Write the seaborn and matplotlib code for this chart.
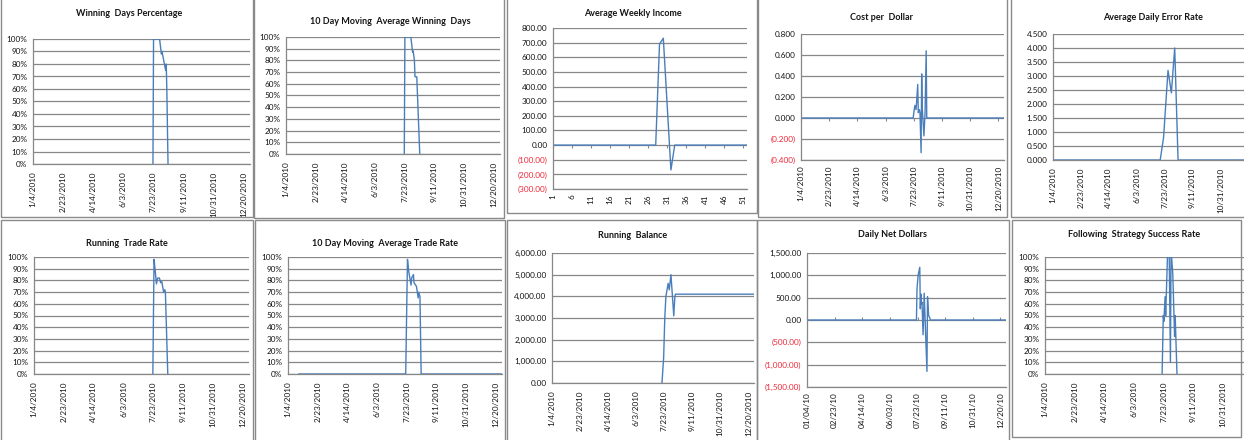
import matplotlib
matplotlib.use("Agg")
import matplotlib.pyplot as plt
import matplotlib.dates as mdates
from matplotlib.patches import Rectangle
import seaborn as sns
import pandas as pd

sns.set_style("white")
plt.rcParams['font.family'] = ['Lato', 'DejaVu Sans']

# ---------------- data ----------------
date_ticks = ["2010-01-04", "2010-02-23", "2010-04-14", "2010-06-03",
              "2010-07-23", "2010-09-11", "2010-10-31", "2010-12-20"]
date_labels = ["1/4/2010", "2/23/2010", "4/14/2010", "6/3/2010",
               "7/23/2010", "9/11/2010", "10/31/2010", "12/20/2010"]
date_labels_short = ["01/04/10", "02/23/10", "04/14/10", "06/03/10",
                     "07/23/10", "09/11/10", "10/31/10", "12/20/10"]
x_start, x_end = "2010-01-04", "2010-12-30"

win_dates = ["2010-07-22", "2010-07-23", "2010-08-02", "2010-08-05", "2010-08-06",
             "2010-08-08", "2010-08-12", "2010-08-13", "2010-08-14", "2010-08-16"]
win_pct = [0, 100, 100, 88, 90, 85, 75, 80, 60, 0]

ma_win_dates = ["2010-07-22", "2010-07-23", "2010-08-02", "2010-08-05", "2010-08-06",
                "2010-08-08", "2010-08-09", "2010-08-12", "2010-08-17"]
ma_win_pct = [0, 100, 100, 87, 88, 80, 66, 66, 0]

weeks = list(range(1, 53))
weekly_income = [0, 0, 0, 0, 0, 0, 0, 0, 0, 0,
                 0, 0, 0, 0, 0, 0, 0, 0, 0, 0,
                 0, 0, 0, 0, 0, 0, 0, 0, 690, 730,
                 280, -170, 0, 0, 0, 0, 0, 0, 0, 0,
                 0, 0, 0, 0, 0, 0, 0, 0, 0, 0,
                 0, 0]
week_ticks = [1, 6, 11, 16, 21, 26, 31, 36, 41, 46, 51]

cost_dates = ["2010-01-04", "2010-07-22", "2010-07-23", "2010-07-25", "2010-07-27",
              "2010-07-28", "2010-07-30", "2010-07-31", "2010-08-02", "2010-08-03",
              "2010-08-05", "2010-08-06", "2010-08-07", "2010-08-10", "2010-08-12",
              "2010-08-14", "2010-08-15", "2010-12-30"]
cost_per_dollar = [0, 0, 0.05, 0.12, 0.08, 0.15, 0.32, 0.05, 0.08, 0.05,
                   -0.33, 0.42, 0.10, -0.17, 0.05, 0.64, 0, 0]

error_dates = ["2010-01-04", "2010-07-15", "2010-07-21", "2010-07-29", "2010-08-04",
               "2010-08-10", "2010-08-16", "2010-12-30"]
error_rate = [0, 0, 0.8, 3.2, 2.4, 4.0, 0, 0]

trade_dates = ["2010-07-22", "2010-07-24", "2010-07-26", "2010-07-28", "2010-07-30",
               "2010-08-02", "2010-08-04", "2010-08-06", "2010-08-09", "2010-08-11",
               "2010-08-12", "2010-08-16"]
trade_rate = [0, 98, 88, 77, 82, 82, 78, 79, 70, 72, 70, 0]

ma_trade_dates = ["2010-01-22", "2010-07-21", "2010-07-24", "2010-07-26", "2010-07-30",
                  "2010-07-31", "2010-08-03", "2010-08-04", "2010-08-08", "2010-08-11",
                  "2010-08-12", "2010-08-14", "2010-08-16", "2010-12-30"]
ma_trade_rate = [0, 0, 98, 88, 76, 82, 85, 78, 75, 65, 70, 66, 0, 0]

balance_dates = ["2010-07-19", "2010-07-22", "2010-07-24", "2010-07-26", "2010-07-30",
                 "2010-08-01", "2010-08-04", "2010-08-09", "2010-08-11", "2010-08-12",
                 "2010-12-30"]
balance = [0, 1200, 3000, 4000, 4600, 4300, 5000, 3100, 4000, 4100, 4100]

net_dates = ["2010-01-04", "2010-07-21", "2010-07-22", "2010-07-24", "2010-07-27",
             "2010-07-28", "2010-07-29", "2010-07-30", "2010-07-31", "2010-08-02",
             "2010-08-04", "2010-08-09", "2010-08-10", "2010-08-12", "2010-08-14",
             "2010-08-15", "2010-12-30"]
net_dollars = [0, 0, 700, 1000, 1180, 250, 580, 350, 400, -330, 600, -1150, 520,
               100, 50, 0, 0]

follow_dates = ["2010-07-20", "2010-07-22", "2010-07-23", "2010-07-25", "2010-07-26",
                "2010-07-29", "2010-08-01", "2010-08-03", "2010-08-04", "2010-08-05",
                "2010-08-07", "2010-08-10", "2010-08-11", "2010-08-14"]
follow_rate = [0, 50, 45, 66, 50, 100, 100, 10, 100, 100, 85, 32, 50, 0]

# ---------------- styling ----------------
W, H = 1244, 440
LINE = "#4A7EBB"
GRID = "#878787"
NEG = "#F02838"
TXT = "#141414"
FS = 5.9
TFS = 6.5

fig = plt.figure(figsize=(W / 100, H / 100), dpi=100)
fig.patch.set_facecolor("white")


def box(l, t, r, b):
    fig.patches.append(Rectangle((l / W, 1 - b / H), (r - l) / W, (b - t) / H,
                                 transform=fig.transFigure, fill=False,
                                 ec="#8A8A8A", lw=1.0))


def pct_labels(v):
    return f"{v:.0f}%"


def money(v, dec=2):
    s = f"{abs(v):,.{dec}f}"
    return f"({s})" if v < 0 else s


def panel(rect, title, txy, ylim, yticks, ylabels, zero_axis=False):
    l, t, r, b = rect
    ax = fig.add_axes([l / W, 1 - b / H, (r - l) / W, (b - t) / H])
    ax.set_facecolor("none")
    ax.grid(axis="y", color=GRID, lw=0.9)
    ax.grid(axis="x", visible=False)
    ax.set_axisbelow(True)
    for s in ("top", "right"):
        ax.spines[s].set_visible(False)
    for s in ("left", "bottom"):
        ax.spines[s].set_color(GRID)
        ax.spines[s].set_linewidth(0.9)
    ax.tick_params(axis="y", length=0, pad=4, labelsize=FS)
    ax.tick_params(axis="x", length=0 if zero_axis else 2.5, color=GRID,
                   direction="out", pad=4 if zero_axis else 3, labelsize=FS,
                   labelcolor=TXT)
    fig.text(txy[0] / W, 1 - txy[1] / H, title, ha="center", va="center",
             fontsize=TFS, fontweight="bold", color=TXT)
    ax._ylim_spec = (ylim, yticks, ylabels)
    return ax


def set_y(ax):
    ylim, yticks, ylabels = ax._ylim_spec
    ax.set_ylim(*ylim)
    ax.set_yticks(yticks)
    ax.set_yticklabels(ylabels)
    for lbl, v in zip(ax.get_yticklabels(), yticks):
        lbl.set_color(NEG if v < 0 else TXT)
    ax.set_xlabel("")
    ax.set_ylabel("")


def add_zero_ticks(ax, ticks, frac):
    sec = ax.secondary_xaxis(frac)
    sec.set_xticks(ticks)
    sec.tick_params(axis="x", length=2.5, color=GRID, direction="out",
                    labelbottom=False, labeltop=False)
    for sp in sec.spines.values():
        sp.set_visible(False)


def finish_dates(ax, labels, zero_frac=None, n_ticks=None):
    set_y(ax)
    ax.set_xlim(pd.Timestamp(x_start), pd.Timestamp(x_end))
    n = n_ticks if n_ticks else len(date_ticks)
    tk = [mdates.date2num(pd.Timestamp(d)) for d in date_ticks[:n]]
    ax.set_xticks(tk)
    ax.set_xticklabels(labels[:n], rotation=90, va="top", ha="center")
    if zero_frac is not None:
        add_zero_ticks(ax, tk, zero_frac)


def draw(ax, dates, vals):
    sns.lineplot(x=pd.to_datetime(dates), y=vals, ax=ax, color=LINE,
                 linewidth=1.0, estimator=None)


pct_ticks = list(range(0, 101, 10))

# 1. Winning Days Percentage
ax = panel((33, 39, 250, 164), "Winning  Days Percentage", (129, 14), (0, 100),
           pct_ticks, [pct_labels(v) for v in pct_ticks])
draw(ax, win_dates, win_pct)
finish_dates(ax, date_labels)

# 2. 10 Day Moving Average Winning Days
ax = panel((286, 37, 500, 154), "10 Day Moving  Average Winning  Days", (390, 22),
           (0, 100), pct_ticks, [pct_labels(v) for v in pct_ticks])
draw(ax, ma_win_dates, ma_win_pct)
finish_dates(ax, date_labels)

# 3. Average Weekly Income
inc_ticks = list(range(-300, 801, 100))
ax = panel((553, 28, 747, 189), "Average Weekly Income", (633, 13), (-300, 800),
           inc_ticks, [money(v) for v in inc_ticks], zero_axis=True)
sns.lineplot(x=weeks, y=weekly_income, ax=ax, color=LINE, linewidth=1.0,
             estimator=None)
set_y(ax)
ax.set_xlim(1, 52)
ax.set_xticks(week_ticks)
ax.set_xticklabels([str(w) for w in week_ticks], rotation=90, va="top", ha="center")
add_zero_ticks(ax, week_ticks, 300 / 1100)

# 4. Cost per Dollar
cpd_ticks = [-0.4, -0.2, 0.0, 0.2, 0.4, 0.6, 0.8]
ax = panel((801, 34, 1004, 160), "Cost per  Dollar", (882, 18), (-0.4, 0.8),
           cpd_ticks, [money(v, 3) for v in cpd_ticks], zero_axis=True)
draw(ax, cost_dates, cost_per_dollar)
finish_dates(ax, date_labels, zero_frac=0.4 / 1.2)

# 5. Average Daily Error Rate (right part falls outside the sheet view)
err_ticks = [0, 0.5, 1.0, 1.5, 2.0, 2.5, 3.0, 3.5, 4.0, 4.5]
ax = panel((1053, 34, 1254, 160), "Average Daily Error Rate", (1153, 18), (0, 4.5),
           err_ticks, [money(v, 3) for v in err_ticks])
draw(ax, error_dates, error_rate)
finish_dates(ax, date_labels, n_ticks=7)

# 6. Running Trade Rate
ax = panel((34, 257, 249, 374), "Running  Trade Rate", (127, 243), (0, 100),
           pct_ticks, [pct_labels(v) for v in pct_ticks])
draw(ax, trade_dates, trade_rate)
finish_dates(ax, date_labels)

# 7. 10 Day Moving Average Trade Rate
ax = panel((288, 257, 502, 374), "10 Day Moving  Average Trade Rate", (385, 243),
           (0, 100), pct_ticks, [pct_labels(v) for v in pct_ticks])
draw(ax, ma_trade_dates, ma_trade_rate)
finish_dates(ax, date_labels)

# 8. Running Balance
bal_ticks = list(range(0, 6001, 1000))
ax = panel((552, 253, 754, 383), "Running  Balance", (633, 235), (0, 6000),
           bal_ticks, [money(v) for v in bal_ticks])
draw(ax, balance_dates, balance)
finish_dates(ax, date_labels)

# 9. Daily Net Dollars
net_ticks = list(range(-1500, 1501, 500))
ax = panel((807, 253, 1006, 387), "Daily Net Dollars", (892, 234), (-1500, 1500),
           net_ticks, [money(v) for v in net_ticks], zero_axis=True)
draw(ax, net_dates, net_dollars)
finish_dates(ax, date_labels_short, zero_frac=0.5)

# 10. Following Strategy Success Rate (right part falls outside the sheet view)
ax = panel((1045, 257, 1259, 374), "Following  Strategy Success Rate", (1134, 234),
           (0, 100), pct_ticks, [pct_labels(v) for v in pct_ticks])
draw(ax, follow_dates, follow_rate)
finish_dates(ax, date_labels, n_ticks=7)

# panel frames
box(1, -2, 253, 217)
box(254, -2, 504, 218)
box(507, -2, 757, 213)
box(758, -2, 1007, 217)
box(1011, -2, 1250, 217)
box(1, 220, 253, 442)
box(255, 220, 505, 442)
box(507, 220, 757, 442)
box(757, 220, 1009, 442)
box(1012, 220, 1241, 437)

fig.savefig("out.png", dpi=100, facecolor="white")
